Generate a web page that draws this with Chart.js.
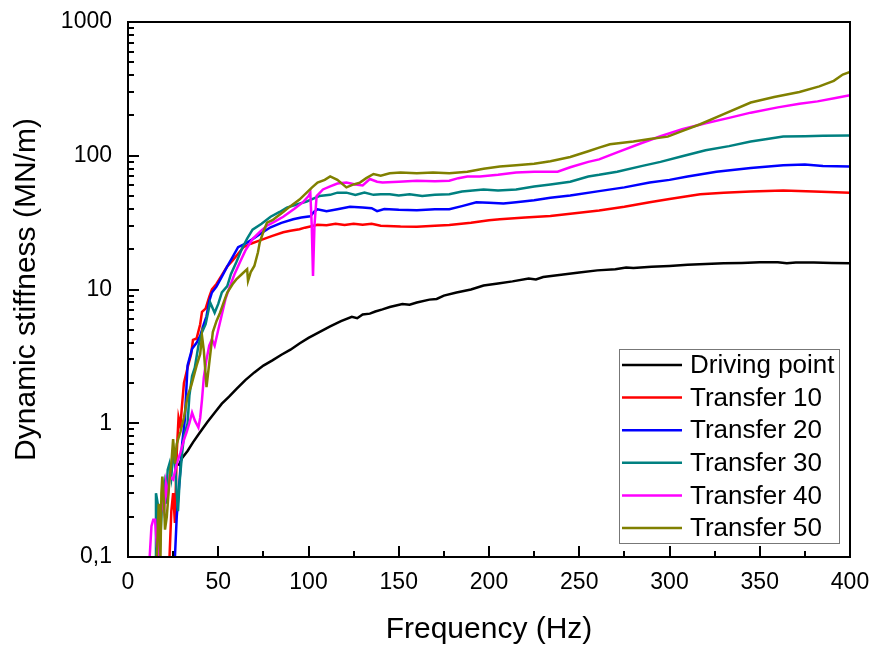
<!DOCTYPE html>
<html lang="en">
<head>
  <meta charset="UTF-8" />
  <title>Dynamic stiffness</title>
  <script src="https://cdn.jsdelivr.net/npm/chart.js"></script>
  <style>
    body { margin: 0; background: #fff; }
    canvas { display: block; }
  </style>
</head>
<body>
  <canvas id="stiffChart" width="875" height="646"></canvas>

  <script>
    // values (frequency in Hz, stiffness in MN/m)
    const drivingFreq = [28, 30, 33, 36, 40, 44, 48, 52, 56, 60, 65, 70, 75, 80, 85, 90, 95, 100, 106, 112, 118, 124, 127, 130, 134, 137, 141, 145, 152, 156, 160, 167, 171, 175, 182, 190, 197, 205, 213, 222, 226, 230, 240, 250, 260, 270, 276, 280, 290, 300, 310, 320, 330, 340, 350, 360, 365, 370, 380, 390, 400];
    const drivingVal = [0.48, 0.55, 0.62, 0.72, 0.86, 1.02, 1.2, 1.4, 1.58, 1.8, 2.1, 2.4, 2.7, 2.95, 3.25, 3.55, 3.95, 4.35, 4.8, 5.3, 5.8, 6.25, 6.1, 6.5, 6.6, 6.85, 7.1, 7.4, 7.8, 7.7, 8.0, 8.4, 8.5, 9.0, 9.5, 10.0, 10.7, 11.1, 11.5, 12.1, 11.9, 12.4, 12.9, 13.4, 13.9, 14.2, 14.6, 14.5, 14.8, 15.0, 15.3, 15.5, 15.7, 15.8, 16.0, 16.0, 15.7, 15.9, 15.9, 15.8, 15.7];

    const t10Freq = [23, 24, 25, 26, 27, 28, 29, 30, 31, 33, 35, 36, 38, 40, 41, 43, 45, 46.5, 49, 52, 55, 58, 61, 64, 68, 72, 75, 80, 86, 90, 95, 98, 101, 105, 110, 115, 120, 125, 130, 135, 140, 151, 160, 170, 178, 190, 200, 206, 220, 234, 250, 261, 275, 289, 300, 317, 330, 345, 363, 380, 400];
    const t10Val = [0.1, 0.22, 0.3, 0.18, 0.6, 1.1, 0.95, 1.4, 2.0, 2.6, 3.3, 4.2, 4.3, 5.5, 6.8, 7.2, 8.8, 10, 11, 12.8, 14.9, 16.5, 18.5, 20.7, 22, 23, 23.8, 25.2, 26.8, 27.5, 28.2, 29.0, 29.6, 30.5, 30.2, 31, 30.3, 31, 30.5, 31, 30, 29.6, 29.5, 30, 30.3, 31.5, 33, 33.5, 34.5, 35.5, 37.5, 39, 41.5, 44.9, 47.5, 51.6, 53, 54, 55, 54, 53];

    const t20Freq = [25, 26, 27, 28, 29, 30, 31.5, 32.5, 33, 35.5, 38, 40, 42, 43.5, 45, 46.5, 49, 52, 55, 58, 61, 65, 69, 74, 79, 85, 91.5, 96, 101, 103, 105, 110, 116, 123, 130, 135, 138, 142, 150, 160, 170, 178, 185, 193, 200, 208, 215, 225, 234, 245, 261, 275, 289, 300, 310, 326, 345, 363, 375, 385, 400];
    const t20Val = [0.1, 0.1, 0.2, 0.3, 0.45, 0.7, 1.07, 2.0, 2.7, 3.6, 4.0, 4.5, 5.5, 6.3, 8.2, 9.5, 10.5, 12.5, 14.9, 17.5, 20.7, 22, 23.8, 26.5, 29.2, 31.5, 33.5, 34.5, 35.3, 38, 39.8, 38.5, 39.8, 41.5, 41, 40.5, 38.5, 40, 39.5, 39.2, 39.8, 39.8, 42, 44.9, 44.5, 44, 45, 46.5, 48.5, 50.5, 54.4, 58, 63, 66, 70, 76, 81, 85, 86, 84, 83];

    const t30Freq = [15, 15.5, 16.5, 17.5, 19, 20, 21, 22, 23, 24, 25, 26, 27, 27.7, 28.5, 30, 31, 33, 34, 35.5, 37, 39, 41, 43, 45.5, 48, 50, 52, 55, 57, 60, 63, 66, 69, 74, 79, 84, 88, 93, 99, 103, 106, 112, 116, 121, 126, 131, 136, 140, 145, 150, 156, 163, 170, 178, 185, 197, 205, 215, 225, 234, 245, 255, 261, 271, 285, 295, 307, 320, 333, 345, 355, 363, 375, 385, 400];
    const t30Val = [0.1, 0.3, 0.25, 0.1, 0.28, 0.35, 0.25, 0.45, 0.5, 0.4, 0.6, 0.5, 0.3, 0.22, 0.35, 0.6, 0.8, 1.0, 1.6, 2.25, 2.6, 3.8, 4.8, 5.5, 8, 6.7, 7.8, 9.5, 10.6, 13, 16, 20, 24, 28, 31, 35, 38, 41, 43, 45.5, 48, 50, 51, 53, 53, 51, 53, 51, 51.5, 51.5, 50.5, 51.5, 50, 51, 51.5, 54, 56, 55, 56, 59, 61, 64, 70, 72, 76, 84, 90, 99, 110, 118, 128, 134, 139, 140, 141, 142];

    const t40Freq = [12, 13, 14, 15, 16, 17, 18, 19, 20, 21, 22, 23, 25, 27, 29, 31, 32.5, 34, 35.5, 37, 39, 40, 41, 42, 43.5, 45, 46.5, 48, 50, 52, 54, 56.5, 59, 62, 65, 69, 73, 77, 81, 86, 92, 97, 100, 101, 101.8, 102.5, 103.3, 104.5, 108, 112, 116, 121, 126, 130, 134, 138, 141, 150, 160, 170, 178, 183, 188, 195, 205, 215, 225, 238, 245, 255, 261, 271, 285, 295, 307, 320, 333, 345, 360, 372, 382, 392, 400];
    const t40Val = [0.1, 0.17, 0.19, 0.19, 0.12, 0.1, 0.2, 0.27, 0.22, 0.35, 0.28, 0.4, 0.38, 0.5, 0.6, 0.75, 0.86, 1.0, 1.2, 1.05, 0.93, 1.1, 1.5, 2.2, 3.0, 3.8, 4.25, 3.8, 5.0, 6.5, 8.5, 10.6, 13, 16, 19.5, 23.8, 27, 30, 32, 35, 40, 45, 50, 53, 30, 12.6, 30, 50, 56, 59, 62, 63, 61, 60, 67, 64, 63, 64, 65, 64.5, 65, 68, 70, 70, 72, 75, 76, 76, 82, 90, 94, 106, 125, 140, 158, 175, 192, 210, 230, 245, 255, 270, 284];

    const t50Freq = [16, 17, 18, 18.5, 19, 20, 20.5, 21.5, 23, 24, 25, 26, 27, 29, 31, 33, 35, 38, 40, 41, 42, 43.5, 45, 47, 49, 51, 53, 55, 58, 60, 63, 66, 66.5, 68, 70, 72, 73, 75, 77, 80, 82.5, 86, 90, 95, 99, 102, 105, 109, 112, 116, 121, 125, 128.5, 132, 136, 140, 145, 151, 160, 169, 178, 188, 197, 206, 215, 225, 234, 245, 255, 261, 267, 280, 290, 299, 308, 317, 330, 345, 358, 372, 383, 391, 396, 400];
    const t50Val = [0.1, 0.25, 0.1, 0.3, 0.4, 0.25, 0.16, 0.2, 0.38, 0.5, 0.76, 0.5, 0.7, 0.86, 1.1, 1.6, 1.9, 2.7, 3.3, 4.5, 3.5, 1.86, 2.8, 4.8, 5.8, 6.7, 8, 9.5, 11, 11.9, 13, 14.2, 11.6, 13.5, 15, 19, 22.5, 27, 31.6, 33, 35, 38, 42, 47, 53, 58, 63, 66, 70, 66, 58, 61, 63, 68, 73, 71, 74, 75, 74, 75, 74, 76, 80, 83, 85, 87, 91, 98, 108, 115, 122, 128, 134, 139, 155, 172, 205, 250, 275, 300, 330, 363, 405, 423];

    const seriesLabels = ['Driving point', 'Transfer 10', 'Transfer 20', 'Transfer 30', 'Transfer 40', 'Transfer 50'];
    const seriesColors = ['#000000', '#ff0000', '#0000ff', '#008080', '#ff00ff', '#808000'];
    const seriesFreq = [drivingFreq, t10Freq, t20Freq, t30Freq, t40Freq, t50Freq];
    const seriesVal = [drivingVal, t10Val, t20Val, t30Val, t40Val, t50Val];

    const xTicks = [0, 50, 100, 150, 200, 250, 300, 350, 400];
    const yTicks = [0.1, 1, 10, 100, 1000];

    const FONT = "'Liberation Sans', Arial, sans-serif";

    // box around the plot + inward tick marks (major and minor)
    const frameTicks = {
      id: 'frameTicks',
      afterDatasetsDraw(chart) {
        const { ctx, chartArea: a, scales } = chart;
        ctx.save();
        ctx.strokeStyle = '#000';
        ctx.lineWidth = 2;
        ctx.strokeRect(a.left, a.top, a.right - a.left, a.bottom - a.top);

        ctx.beginPath();
        for (let v = 0; v <= 400; v += 25) {
          const x = Math.round(scales.x.getPixelForValue(v));
          const len = v % 50 === 0 ? 11 : 6;
          ctx.moveTo(x, a.bottom);
          ctx.lineTo(x, a.bottom - len);
        }
        for (let d = 0.1; d < 1000; d *= 10) {
          for (let k = 1; k <= 9; k++) {
            const y = Math.round(scales.y.getPixelForValue(d * k));
            const len = k === 1 ? 11 : 6;
            ctx.moveTo(a.left, y);
            ctx.lineTo(a.left + len, y);
          }
        }
        ctx.stroke();
        ctx.restore();
      }
    };

    // legend drawn inside the plot, bottom right
    const insideLegend = {
      id: 'insideLegend',
      afterDraw(chart) {
        const { ctx } = chart;
        const box = { left: 619, top: 349, width: 220, height: 194 };
        ctx.save();
        ctx.fillStyle = '#fff';
        ctx.fillRect(box.left, box.top, box.width, box.height);
        ctx.strokeStyle = '#777';
        ctx.lineWidth = 1;
        ctx.strokeRect(box.left + 0.5, box.top + 0.5, box.width, box.height);
        ctx.font = '26px ' + FONT;
        ctx.textBaseline = 'middle';
        chart.data.datasets.forEach((ds, i) => {
          const y = box.top + 16 + i * 32.6;
          ctx.strokeStyle = ds.borderColor;
          ctx.lineWidth = 2.5;
          ctx.beginPath();
          ctx.moveTo(box.left + 3, y);
          ctx.lineTo(box.left + 63, y);
          ctx.stroke();
          ctx.fillStyle = '#000';
          ctx.fillText(ds.label, box.left + 71, y + 1);
        });
        ctx.restore();
      }
    };

    // no extra room for overflowing tick labels, the plot box is fixed
    function noOverflow(s) {
      s.paddingTop = 0;
      s.paddingBottom = 0;
      s.paddingLeft = 0;
      s.paddingRight = 0;
    }

    const datasets = seriesLabels.map((label, i) => ({
      label: label,
      data: seriesFreq[i].map((f, j) => ({ x: f, y: seriesVal[i][j] })),
      borderColor: seriesColors[i],
      backgroundColor: seriesColors[i],
      borderWidth: 2.5,
      pointRadius: 0,
      tension: 0,
      fill: false,
      order: seriesLabels.length - i
    }));

    new Chart(document.getElementById('stiffChart'), {
      type: 'line',
      data: { datasets },
      options: {
        responsive: false,
        animation: false,
        layout: { padding: { top: 22, right: 25, left: 0, bottom: 0 } },
        plugins: {
          legend: { display: false },
          tooltip: { enabled: false }
        },
        scales: {
          x: {
            type: 'linear',
            min: 0,
            max: 400,
            grid: { display: false, drawTicks: false },
            border: { display: false },
            afterBuildTicks: s => { s.ticks = xTicks.map(v => ({ value: v })); },
            afterFit: s => { s.height = 89; noOverflow(s); },
            ticks: {
              color: '#000',
              padding: 12,
              maxRotation: 0,
              font: { family: FONT, size: 23 }
            },
            title: {
              display: true,
              text: 'Frequency (Hz)',
              color: '#000',
              font: { family: FONT, size: 30, lineHeight: 1 },
              padding: { top: 0, bottom: 1 }
            }
          },
          y: {
            type: 'logarithmic',
            min: 0.1,
            max: 1000,
            grid: { display: false, drawTicks: false },
            border: { display: false },
            afterBuildTicks: s => { s.ticks = yTicks.map(v => ({ value: v })); },
            afterFit: s => { s.width = 128; noOverflow(s); },
            ticks: {
              color: '#000',
              padding: 16,
              font: { family: FONT, size: 23 },
              callback: v => (v === 0.1 ? '0,1' : String(v))
            },
            title: {
              display: true,
              text: 'Dynamic stiffness (MN/m)',
              color: '#000',
              font: { family: FONT, size: 30, lineHeight: 1 },
              padding: { top: 12, bottom: 0 }
            }
          }
        }
      },
      plugins: [frameTicks, insideLegend]
    });
  </script>
</body>
</html>
